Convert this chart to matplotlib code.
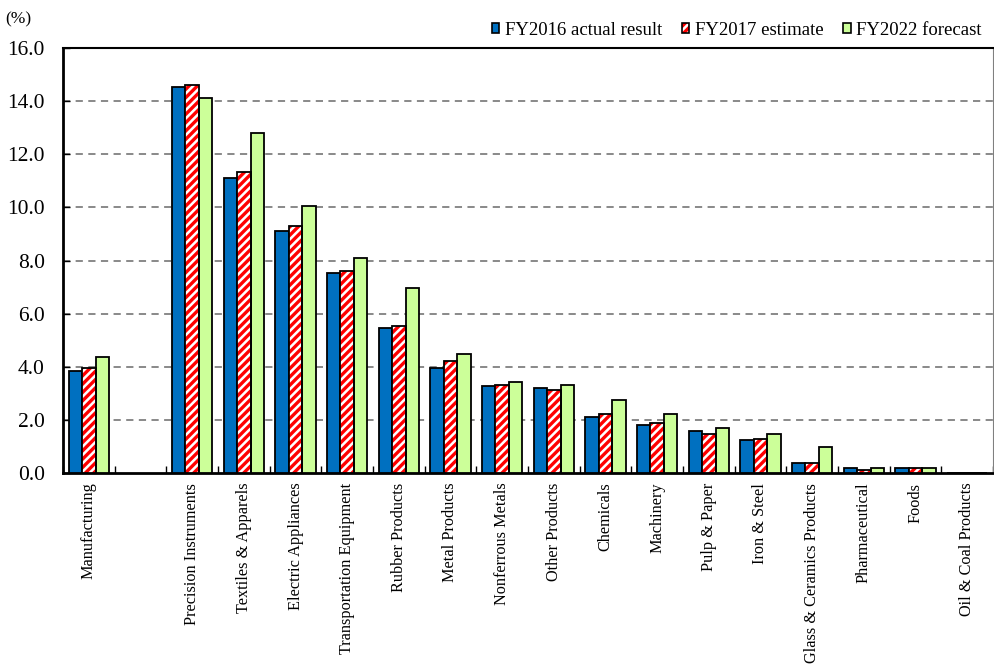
import numpy as np
import matplotlib
matplotlib.use("Agg")
import matplotlib.pyplot as plt
from matplotlib.patches import Patch

plt.rcParams['font.family'] = ['Liberation Serif', 'DejaVu Serif']
plt.rcParams['hatch.linewidth'] = 2.4

# --- data ---
industries = ["Manufacturing", "", "Precision Instruments", "Textiles & Apparels",
              "Electric Appliances", "Transportation Equipment", "Rubber Products",
              "Metal Products", "Nonferrous Metals", "Other Products", "Chemicals",
              "Machinery", "Pulp & Paper", "Iron & Steel", "Glass & Ceramics Products",
              "Pharmaceutical", "Foods", "Oil & Coal Products"]
fy2016 = [3.84, np.nan, 14.53, 11.1, 9.1, 7.53, 5.46, 3.95, 3.28, 3.2, 2.1,
          1.81, 1.57, 1.23, 0.36, 0.19, 0.19, 0.0]
fy2017 = [3.95, np.nan, 14.6, 11.33, 9.3, 7.6, 5.53, 4.22, 3.3, 3.12, 2.22,
          1.87, 1.45, 1.28, 0.36, 0.13, 0.19, 0.0]
fy2022 = [4.37, np.nan, 14.1, 12.8, 10.06, 8.1, 6.95, 4.48, 3.43, 3.31, 2.73,
          2.21, 1.68, 1.47, 0.99, 0.19, 0.19, 0.0]
series_labels = ["FY2016 actual result", "FY2017 estimate", "FY2022 forecast"]

blue = "#0070C0"
green = "#CCFF99"
red = "#FF0000"

fig = plt.figure(figsize=(9.94, 6.65), dpi=100)
ax = fig.add_axes([63 / 994, 1 - 473 / 665, 930 / 994, 425 / 665])

x = np.arange(len(industries)) + 0.5
w = 0.26

ax.bar(x - w, fy2016, w, color=blue, edgecolor="black", linewidth=1.3, zorder=3)
# hatched bars: red stripes first, then the black outline on top
ax.bar(x, fy2017, w, color="white", edgecolor=red, hatch="////", linewidth=0, zorder=3)
ax.bar(x, fy2017, w, fill=False, edgecolor="black", linewidth=1.3, zorder=4)
ax.bar(x + w, fy2022, w, color=green, edgecolor="black", linewidth=1.3, zorder=3)

ax.set_xlim(0, len(industries))
ax.set_ylim(0, 16)
ax.set_yticks(np.arange(0, 17, 2))
ax.set_yticklabels([f"{v:.1f}" for v in np.arange(0, 17, 2)], fontsize=15.5)
ax.tick_params(axis="y", direction="in", length=5, width=1, pad=13)

# category boundaries as ticks, names centred between them
ax.set_xticks(np.arange(0, len(industries) + 1))
ax.set_xticklabels([])
ax.set_xticks(x, minor=True)
ax.set_xticklabels(industries, minor=True, rotation=90, fontsize=11.7, va="top")
ax.tick_params(axis="x", which="major", direction="in", length=5, width=1)
ax.tick_params(axis="x", which="minor", length=0, pad=7)

for yv in np.arange(2, 16, 2):
    ax.axhline(yv, color="#808080", linewidth=1.3, linestyle=(0, (4, 3)), zorder=1)

ax.spines["left"].set_linewidth(2)
ax.spines["bottom"].set_linewidth(2)
ax.spines["top"].set_linewidth(1.5)
ax.spines["right"].set_linewidth(0.8)
ax.spines["right"].set_color("#808080")

fig.text(5 / 994, 1 - 19 / 665, "(%)", fontsize=12.5, va="center", ha="left")

handles = [Patch(facecolor=blue, edgecolor="black", linewidth=1.2),
           (Patch(facecolor="white", edgecolor=red, hatch="////", linewidth=0),
            Patch(fill=False, edgecolor="black", linewidth=1.2)),
           Patch(facecolor=green, edgecolor="black", linewidth=1.2)]
ax.legend(handles, series_labels, loc="lower right", bbox_to_anchor=(0.998, 1.0),
          ncol=3, frameon=False, fontsize=13.5, handlelength=0.4,
          handleheight=0.4, handletextpad=0.3, columnspacing=1.05,
          borderaxespad=0.3, borderpad=0.2)

fig.savefig("out.png", dpi=100)
